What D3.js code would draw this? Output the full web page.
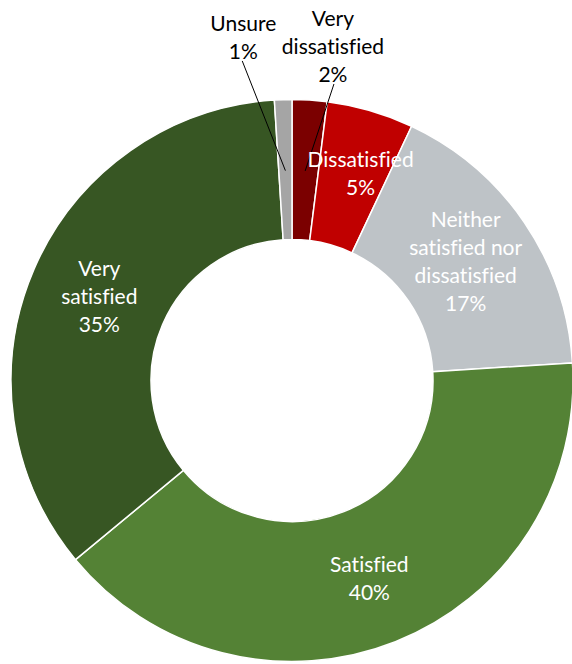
<!DOCTYPE html>
<html>
<head>
<style>
body { margin: 0; background: #fff; }
text { font-family: "Lato", "Liberation Sans", sans-serif; font-variant-ligatures: none; }
</style>
</head>
<body>
<svg id="chart" width="572" height="664"></svg>
<script src="https://d3js.org/d3.v7.min.js"></script>
<script>
    // data, clockwise from 12 o'clock
    const categories = ["Very dissatisfied", "Dissatisfied", "Neither satisfied nor dissatisfied", "Satisfied", "Very satisfied", "Unsure"];
    const shares = [2, 5, 17, 40, 35, 1];
    const labelLines = [["Very", "dissatisfied"], ["Dissatisfied"], ["Neither", "satisfied nor", "dissatisfied"], ["Satisfied"], ["Very", "satisfied"], ["Unsure"]];
    const colors = ["#7b0000", "#c00000", "#bec3c7", "#548235", "#375623", "#a5a5a5"];
    // labels placed outside the ring: [angle in degrees, distance from centre]
    const outside = {"Very dissatisfied": [7, 336], "Unsure": [-8.1, 346]};
    // small manual nudges, like a dragged data label
    const nudge = {"Dissatisfied": [10, -5], "Satisfied": [0, 3]};

    const svg = d3.select("#chart");
    const cx = 292, cy = 380.5;
    const outerR = 281, innerR = 141;
    const lineH = 28;

    const pie = d3.pie().sort(null).value(d => d.value);
    const arcs = pie(categories.map((c, i) => ({name: c, value: shares[i], lines: labelLines[i], color: colors[i]})));

    const arc = d3.arc().innerRadius(innerR).outerRadius(outerR);
    const mid = d3.arc().innerRadius(innerR).outerRadius(outerR - 2);

    const g = svg.append("g").attr("transform", `translate(${cx},${cy})`);

    g.selectAll("path.slice")
        .data(arcs)
        .enter()
        .append("path")
        .attr("class", "slice")
        .attr("d", arc)
        .style("fill", d => d.data.color)
        .style("stroke", "#fff")
        .style("stroke-width", 1.5);

    function labelPos(d) {
        const o = outside[d.data.name];
        if (!o) {
            const c = mid.centroid(d), n = nudge[d.data.name] || [0, 0];
            return [c[0] + n[0], c[1] + n[1]];
        }
        const a = o[0] * Math.PI / 180;
        return [o[1] * Math.sin(a), -o[1] * Math.cos(a)];
    }

    // leader lines for the outside labels
    g.selectAll("line.leader")
        .data(arcs.filter(d => outside[d.data.name]))
        .enter()
        .append("line")
        .attr("class", "leader")
        .attr("x1", d => mid.centroid(d)[0])
        .attr("y1", d => mid.centroid(d)[1])
        .attr("x2", d => labelPos(d)[0] + (mid.centroid(d)[0] < labelPos(d)[0] ? 1 : -1))
        .attr("y2", d => labelPos(d)[1] + (d.data.lines.length + 1) * lineH / 2 - 5)
        .style("stroke", "#000")
        .style("stroke-width", 1);

    const labels = g.selectAll("text.label")
        .data(arcs)
        .enter()
        .append("text")
        .attr("class", "label")
        .attr("text-anchor", "middle")
        .attr("font-size", "21px")
        .style("fill", d => outside[d.data.name] ? "#000" : "#fff");

    labels.each(function(d) {
        const p = labelPos(d);
        const lines = d.data.lines.concat([d.data.value + "%"]);
        const t = d3.select(this);
        lines.forEach((s, i) => {
            t.append("tspan")
                .attr("x", p[0])
                .attr("y", p[1] + (i - (lines.length - 1) / 2) * lineH + 7)
                .text(s);
        });
    });
</script>
</body>
</html>
